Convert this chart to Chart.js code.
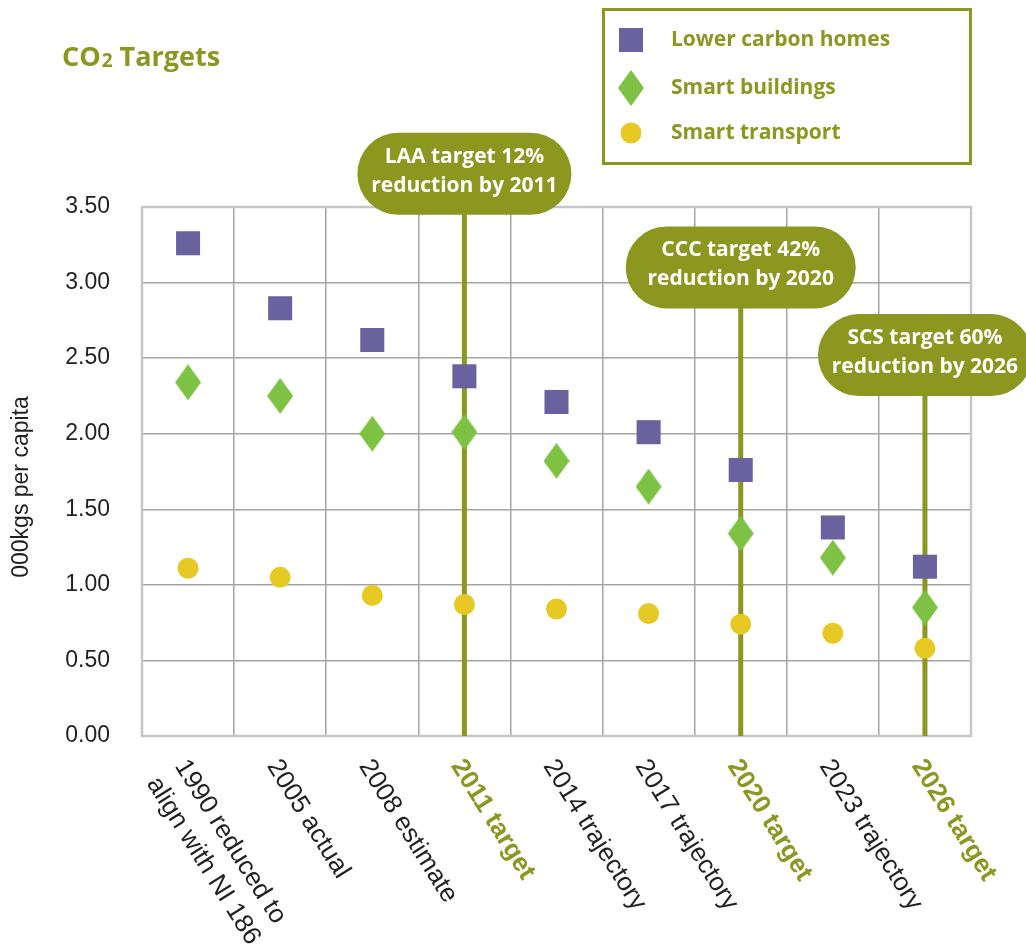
<!DOCTYPE html>
<html>
<head>
<meta charset="utf-8">
<script src="https://cdn.jsdelivr.net/npm/chart.js@4.4.1/dist/chart.umd.min.js"></script>
<style>
  html, body { margin: 0; padding: 0; background: #ffffff; }
  #wrap { position: relative; width: 1026px; height: 950px; }
</style>
</head>
<body>
<div id="wrap"><canvas id="c" width="1026" height="950"></canvas></div>
<script>
// ---- data ----
const categories = [
  ['1990 reduced to', 'align with NI 186'],
  '2005 actual', '2008 estimate', '2011 target', '2014 trajectory',
  '2017 trajectory', '2020 target', '2023 trajectory', '2026 target'
];
const lowerCarbonHomes = [3.26, 2.83, 2.62, 2.38, 2.21, 2.01, 1.76, 1.38, 1.12];
const smartBuildings   = [2.34, 2.25, 2.00, 2.01, 1.82, 1.65, 1.34, 1.18, 0.85];
const smartTransport   = [1.11, 1.05, 0.93, 0.87, 0.84, 0.81, 0.74, 0.68, 0.58];
const yTickValues = [0, 0.5, 1, 1.5, 2, 2.5, 3, 3.5];
const targetCategories = ['2011 target', '2020 target', '2026 target'];
const targetNotes = [
  ['LAA target 12%', 'reduction by 2011'],
  ['CCC target 42%', 'reduction by 2020'],
  ['SCS target 60%', 'reduction by 2026']
];
// vertical placement of each note bubble, in axis units
const noteLevels = [3.72, 3.10, 2.52];

// ---- styles ----
const OLIVE = '#8b971f';
const PURPLE = '#6a629f';
const GREEN = '#7dc242';
const YELLOW = '#e6c922';
const INK = '#231f20';
const ROUND_FONT = '"Open Sans", "DejaVu Sans", sans-serif';
const PLAIN_FONT = '"Liberation Sans", Arial, sans-serif';
const NOTE_WIDTHS = [214, 230, 214];
const NOTE_HEIGHT = 82;

function diamondImage(w, h, color) {
  const c = document.createElement('canvas');
  c.width = w; c.height = h;
  const g = c.getContext('2d');
  g.fillStyle = color;
  g.beginPath();
  g.moveTo(w / 2, 0); g.lineTo(w, h / 2); g.lineTo(w / 2, h); g.lineTo(0, h / 2);
  g.closePath(); g.fill();
  return c;
}
const diamond = diamondImage(26, 36, GREEN);

const decor = {
  id: 'decor',
  beforeDraw(chart) {
    const ctx = chart.ctx;
    ctx.save();
    ctx.fillStyle = '#ffffff';
    ctx.fillRect(0, 0, chart.width, chart.height);
    ctx.restore();
  },
  beforeDatasetsDraw(chart) {
    const { ctx, chartArea: a, scales: { x, y } } = chart;
    ctx.save();
    // plot frame
    ctx.strokeStyle = '#c6c6c6';
    ctx.lineWidth = 2.5;
    ctx.strokeRect(a.left, a.top, a.right - a.left, a.bottom - a.top);

    // target markers with note bubbles
    ctx.font = 'bold 21px ' + ROUND_FONT;
    targetCategories.forEach((cat, i) => {
      const px = x.getPixelForValue(categories.indexOf(cat));
      const cy = y.getPixelForValue(noteLevels[i]);
      const lines = targetNotes[i];
      const w = NOTE_WIDTHS[i], h = NOTE_HEIGHT;
      ctx.strokeStyle = OLIVE;
      ctx.lineWidth = 5;
      ctx.beginPath();
      ctx.moveTo(px, cy);
      ctx.lineTo(px, a.bottom);
      ctx.stroke();
      ctx.fillStyle = OLIVE;
      ctx.beginPath();
      ctx.roundRect(px - w / 2, cy - h / 2, w, h, h / 2);
      ctx.fill();
      ctx.fillStyle = '#ffffff';
      ctx.textAlign = 'center';
      ctx.textBaseline = 'alphabetic';
      ctx.fillText(lines[0], px, cy - 11);
      ctx.fillText(lines[1], px, cy + 18);
    });
    ctx.restore();
  },
  afterDraw(chart) {
    const { ctx, chartArea: a, scales: { x } } = chart;
    ctx.save();

    // rotated category labels
    const theta = 58 * Math.PI / 180;
    const fs = 26;
    const capH = 0.716 * fs;
    categories.forEach((lab, i) => {
      const cx = x.getPixelForValue(i);
      const lines = Array.isArray(lab) ? lab : [lab];
      const isTarget = targetCategories.includes(lab);
      ctx.font = (isTarget ? 'bold ' : '') + fs + 'px ' + PLAIN_FONT;
      ctx.fillStyle = isTarget ? OLIVE : INK;
      ctx.textAlign = 'left';
      ctx.textBaseline = 'alphabetic';
      const ox = cx + 2 - capH * Math.sin(theta);
      const oy = a.bottom + 20 + capH * Math.cos(theta);
      ctx.save();
      ctx.translate(ox, oy);
      ctx.rotate(theta);
      lines.forEach((t, k) => ctx.fillText(t, 0, k * 33));
      ctx.restore();
    });

    // y-axis title
    ctx.save();
    ctx.translate(22, 487);
    ctx.rotate(-Math.PI / 2);
    ctx.font = '23px ' + PLAIN_FONT;
    ctx.fillStyle = INK;
    ctx.textAlign = 'center';
    ctx.textBaseline = 'middle';
    ctx.fillText('000kgs per capita', 0, 0);
    ctx.restore();

    // chart title: CO2 with subscript
    ctx.fillStyle = OLIVE;
    ctx.textAlign = 'left';
    ctx.textBaseline = 'alphabetic';
    let tx = 62;
    const base = 66;
    ctx.font = 'bold 27px ' + ROUND_FONT;
    ctx.fillText('CO', tx, base);
    tx += ctx.measureText('CO').width + 1;
    ctx.font = 'bold 19px ' + ROUND_FONT;
    ctx.fillText('2', tx, base + 1);
    tx += ctx.measureText('2').width;
    ctx.font = 'bold 27px ' + ROUND_FONT;
    ctx.fillText(' Targets', tx, base);

    // legend box
    ctx.strokeStyle = OLIVE;
    ctx.lineWidth = 3;
    ctx.strokeRect(603.5, 9.5, 367, 154);
    const rowsY = [40, 88, 133];
    ctx.font = 'bold 21px ' + ROUND_FONT;
    chart.data.datasets.forEach((ds, i) => {
      ctx.fillStyle = ds.backgroundColor;
      ctx.beginPath();
      Chart.helpers.drawPoint(ctx, {
        pointStyle: ds.pointStyle,
        radius: ds.pointRadius,
        rotation: 0,
        borderWidth: 0
      }, 631, rowsY[i]);
      ctx.fillStyle = OLIVE;
      ctx.textBaseline = 'middle';
      ctx.fillText(ds.label, 671, rowsY[i]);
    });
    ctx.restore();
  }
};

new Chart(document.getElementById('c'), {
  type: 'line',
  data: {
    labels: categories.map((c, i) => i),
    datasets: [
      { label: 'Lower carbon homes', data: lowerCarbonHomes, pointStyle: 'rect', pointRadius: 17,
        backgroundColor: PURPLE, borderColor: PURPLE, pointBorderWidth: 0, showLine: false },
      { label: 'Smart buildings', data: smartBuildings, pointStyle: diamond, pointRadius: 17,
        backgroundColor: GREEN, borderColor: GREEN, pointBorderWidth: 0, showLine: false },
      { label: 'Smart transport', data: smartTransport, pointStyle: 'circle', pointRadius: 10.5,
        backgroundColor: YELLOW, borderColor: YELLOW, pointBorderWidth: 0, showLine: false }
    ]
  },
  options: {
    responsive: false,
    animation: false,
    events: [],
    layout: { padding: { top: 207, right: 55, bottom: 214, left: 0 } },
    plugins: { legend: { display: false }, tooltip: { enabled: false }, title: { display: false } },
    scales: {
      x: {
        type: 'category',
        offset: true,
        grid: { offset: true, color: '#a4a4a4', lineWidth: 1.5, drawTicks: false },
        border: { display: false },
        ticks: { display: false },
        afterFit(scale) { scale.height = 0; }
      },
      y: {
        min: 0, max: 3.5,
        afterBuildTicks(scale) { scale.ticks = yTickValues.map(v => ({ value: v })); },
        grid: { color: '#a4a4a4', lineWidth: 1.5, drawTicks: false },
        border: { display: false },
        ticks: {
          padding: 32,
          color: INK,
          font: { family: PLAIN_FONT, size: 23 },
          callback: v => Number(v).toFixed(2)
        },
        afterFit(scale) { scale.width = 142; }
      }
    }
  },
  plugins: [decor]
});
</script>
</body>
</html>
